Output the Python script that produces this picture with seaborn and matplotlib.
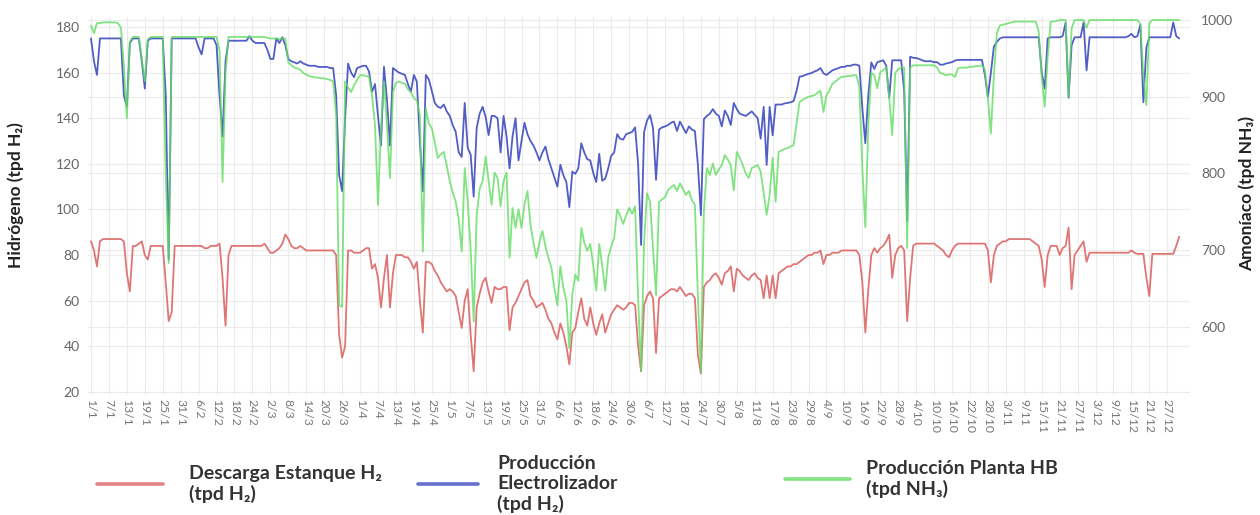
import pandas as pd
import matplotlib
matplotlib.use("Agg")
import matplotlib.pyplot as plt
from matplotlib.lines import Line2D
from matplotlib.transforms import blended_transform_factory
import seaborn as sns

# ---------------- data (daily, 1/1 .. 31/12) ----------------
descarga_h2 = [
    86, 82, 75, 86, 87, 87, 87, 87, 87, 87,
    87, 86, 72, 64, 84, 84, 85, 86, 80, 78,
    84, 84, 84, 84, 84, 68, 51, 55, 84, 84,
    84, 84, 84, 84, 84, 84, 84, 84, 83, 83,
    84, 84, 84, 85, 70, 49, 80, 84, 84, 84,
    84, 84, 84, 84, 84, 84, 84, 84, 85, 83,
    81, 81, 82, 83, 85, 89, 87, 84, 83, 83,
    84, 83, 82, 82, 82, 82, 82, 82, 82, 82,
    82, 82, 80, 45, 35, 40, 82, 82, 81, 81,
    81, 82, 83, 83, 74, 76, 70, 57, 70, 80,
    57, 72, 80, 80, 80, 79, 79, 77, 74, 77,
    60, 46, 77, 77, 76, 73, 71, 68, 66, 64,
    65, 64, 62, 55, 48, 60, 65, 45, 29, 57,
    63, 68, 70, 64, 59, 66, 65, 65, 66, 66,
    47, 57, 59, 62, 65, 68, 69, 62, 60, 57,
    58, 59, 56, 52, 50, 46, 43, 50, 46, 40,
    32, 46, 48, 55, 61, 52, 49, 57, 50, 45,
    50, 54, 46, 50, 54, 56, 58, 57, 56, 57,
    59, 59, 58, 40, 29, 58, 62, 64, 61, 37,
    61, 62, 63, 64, 65, 65, 64, 66, 64, 62,
    63, 63, 61, 36, 28, 66, 68, 69, 71, 72,
    70, 67, 72, 73, 75, 64, 74, 73, 71, 70,
    69, 71, 72, 70, 69, 61, 71, 61, 71, 61,
    72, 73, 74, 75, 75, 76, 76, 77, 78, 79,
    80, 80, 81, 81, 82, 76, 80, 80, 81, 81,
    81, 82, 82, 82, 82, 82, 82, 80, 68, 46,
    65, 80, 83, 81, 83, 84, 86, 89, 70, 80,
    83, 84, 82, 51, 70, 84, 85, 85, 85, 85,
    85, 85, 85, 84, 83, 82, 80, 79, 82, 84,
    85, 85, 85, 85, 85, 85, 85, 85, 85, 85,
    82, 68, 80, 84, 85, 86, 86, 87, 87, 87,
    87, 87, 87, 87, 87, 86, 85, 84, 78, 66,
    80, 84, 84, 84, 80, 83, 84, 92, 65, 80,
    82, 84, 86, 77, 81, 81, 81, 81, 81, 81,
    81, 81, 81, 81, 81, 81, 81, 81, 82, 81,
    80.5, 80.5, 80.5, 70, 62, 80.5, 80.5, 80.5, 80.5, 80.5,
    80.5, 80.5, 80.5, 84, 88,
]

produccion_electrolizador = [
    175, 165, 159, 175, 175, 175, 175, 175, 175, 175,
    175, 150, 145, 173, 175, 175, 175, 165, 153, 174,
    175, 175, 175, 175, 175, 150, 78, 175, 175, 175,
    175, 175, 175, 175, 175, 175, 171, 168, 175, 175,
    175, 175, 172, 150, 132, 165, 174, 174, 174, 174,
    174, 174, 174, 176, 174, 173, 173, 173, 173, 170,
    166, 166, 175, 173, 175.5, 172, 166, 165, 164.5, 164,
    165, 164, 163.5, 163, 163, 163, 162.5, 162.5, 162.5, 162.5,
    162, 162, 150, 115, 108, 140, 164, 160, 158, 162,
    162.5, 163, 163, 160.5, 151.6, 155, 141, 128, 162.6, 148,
    128, 162, 161, 160, 159.5, 159, 155, 151.6, 159, 156,
    130, 108, 159, 157, 152, 146.7, 145, 144.5, 146, 143,
    141, 137, 134, 125, 123, 146.7, 127, 124, 105.6, 135.7,
    142, 145, 140.6, 132.6, 141, 141, 140, 125, 141, 132,
    118, 132, 140, 121.5, 130, 138, 133, 130, 128, 125,
    121.5, 125, 127.6, 122, 118, 114, 110, 119.6, 115, 112,
    101, 116.6, 115.6, 118, 129, 125, 122, 121.5, 116, 112,
    124.4, 112.6, 113.5, 118, 123.5, 125, 133, 131, 130.6, 133,
    133.5, 134, 136, 120, 84.4, 134, 139, 141.4, 135.6, 113,
    135, 136, 136.4, 137, 138, 138.5, 134.4, 138.5, 136, 133.5,
    136.4, 135, 134.4, 119.6, 97.5, 139.6, 141, 142, 144, 142,
    141, 136.4, 143.4, 141, 137, 146.7, 144, 142, 141.5, 141,
    142, 143, 141.5, 140, 131, 145, 119.5, 145, 132.5, 146,
    146, 146, 146.5, 146.7, 147, 147.5, 152, 158.2, 158.5, 159,
    159.5, 159.8, 160.5, 161, 162, 159.7, 159, 160, 161, 161.5,
    162, 162.5, 162.5, 163, 163, 163.5, 163.5, 163, 144.5, 129,
    150, 164.5, 161.6, 164.6, 165, 165.4, 163, 149, 165.4, 165.4,
    165.4, 165.4, 152, 95, 167, 166.5, 166.4, 166, 165.4, 165,
    165, 165, 164.6, 164.6, 163.5, 163.5, 164, 164.3, 164.6, 165.3,
    165.6, 165.6, 165.6, 165.6, 165.6, 165.6, 165.6, 165.6, 165.6, 159,
    149.4, 160, 171.4, 173.5, 175, 175.5, 175.5, 175.5, 175.5, 175.5,
    175.5, 175.5, 175.5, 175.5, 175.5, 175.5, 175.5, 175.5, 160, 153,
    175, 175.5, 175.5, 175.5, 175.5, 176, 182, 149, 172, 175.5,
    175.5, 175.5, 182, 161, 175.5, 175.5, 175.5, 175.5, 175.5, 175.5,
    175.5, 175.5, 175.5, 175.5, 175.5, 175.5, 175.5, 176, 177, 175.5,
    176, 181, 147, 171, 175.5, 175.5, 175.5, 175.5, 175.5, 175.5,
    175.5, 175.5, 182, 176, 175,
]

produccion_planta_hb = [
    993, 983, 996, 996, 997, 997, 997, 997, 997, 996,
    990, 940, 872, 972, 978, 978, 978, 950, 920, 975,
    978, 978, 978, 978, 978, 800, 683, 978, 978, 978,
    978, 978, 978, 978, 978, 978, 978, 978, 978, 978,
    978, 978, 978, 960, 789, 930, 978, 978, 978, 978,
    978, 978, 978, 978, 978, 978, 978, 978, 978, 977,
    976, 976, 976, 975, 976, 976, 945, 941, 938, 937,
    935, 931, 929, 927, 926, 925, 925, 924, 924, 923,
    922, 920, 876, 628, 626, 920, 912, 906, 915, 922,
    928, 928, 927, 926, 902, 863, 759, 859, 920, 863,
    794, 906, 918, 920, 918, 917, 910, 906, 898, 895,
    876, 698, 885, 865, 859, 840, 820, 825, 828, 810,
    790, 775, 763, 740, 698, 807, 763, 700, 607, 745,
    780, 790, 822, 790, 759, 801, 794, 757, 790, 801,
    690, 755, 729, 753, 729, 760, 777, 733, 710, 690,
    710, 725, 705, 690, 677, 650, 628, 679, 651, 634,
    572, 642, 668, 660, 729, 710, 699, 708, 680, 647,
    708, 680, 647, 690, 705, 716, 753, 745, 734, 745,
    755, 747, 757, 638, 542, 711, 774, 763, 703, 641,
    763, 766, 769, 778, 782, 785, 777, 787, 780, 772,
    777, 765, 759, 638, 540, 750, 807, 798, 813, 798,
    805, 811, 824, 818, 811, 778, 828, 820, 811, 800,
    794, 807, 809, 811, 802, 775, 746, 772, 820, 763,
    828, 830, 832, 833, 835, 837, 865, 893, 896, 898,
    900, 901, 902, 905, 908, 880, 902, 908, 917, 920,
    923, 926, 926, 927, 927, 928, 928, 913, 807, 730,
    863, 931, 928, 911, 932, 935, 938, 898, 850, 931,
    936, 938, 938, 703, 938, 941, 941, 941, 941, 941,
    941, 941, 941, 938, 931, 930, 928, 929, 929, 926,
    937, 938, 938, 938, 939, 939, 940, 940, 941, 935,
    898, 852, 928, 983, 993, 994, 995, 996, 997, 998,
    998, 998, 998, 998, 998, 998, 998, 985, 927, 887,
    952, 998, 998, 999, 1000, 1000, 1000, 900, 989, 1000,
    1000, 1000, 1000, 990, 1000, 1000, 1000, 1000, 1000, 1000,
    1000, 1000, 1000, 1000, 1000, 1000, 1000, 1000, 1000, 1000,
    1000, 995, 927, 889, 996, 1000, 1000, 1000, 1000, 1000,
    1000, 1000, 1000, 1000, 1000,
]

left_ticks = [20, 40, 60, 80, 100, 120, 140, 160, 180]
right_ticks = [600, 700, 800, 900, 1000]

legend_labels = [
    "Descarga Estanque H\u2082\n(tpd H\u2082)",
    "Producci\u00f3n\nElectrolizador\n(tpd H\u2082)",
    "Producci\u00f3n Planta HB\n(tpd NH\u2083)",
]
ylabel_left = "Hidr\u00f3geno (tpd H\u2082)"
ylabel_right = "Amon\u00edaco (tpd NH\u2083)"

# ---------------- frame ----------------
fechas = pd.date_range("2023-01-01", periods=len(descarga_h2), freq="D")
tick_fechas = fechas[::6]
tick_labels = [f"{d.day}/{d.month}" for d in tick_fechas]

df = pd.DataFrame({
    "fecha": fechas,
    "descarga": descarga_h2,
    "electrolizador": produccion_electrolizador,
    "planta": produccion_planta_hb,
})

RED = "#dd6666"
BLUE = "#3e4cc0"
GREEN = "#62dc62"
GRID = "#ebebeb"

sns.set_theme(style="white")
plt.rcParams["font.family"] = ["Lato", "DejaVu Sans"]

W, H = 1260, 515
fig = plt.figure(figsize=(W / 100, H / 100), dpi=100)
ax = fig.add_axes([88 / W, 1 - 395 / H, 1102 / W, 378 / H])
ax2 = ax.twinx()

sns.lineplot(data=df, x="fecha", y="descarga", ax=ax, color=RED,
             linewidth=1.3, alpha=0.9, errorbar=None, zorder=3)
sns.lineplot(data=df, x="fecha", y="electrolizador", ax=ax, color=BLUE,
             linewidth=1.3, alpha=0.9, errorbar=None, zorder=3)
sns.lineplot(data=df, x="fecha", y="planta", ax=ax2, color=GREEN,
             linewidth=1.3, alpha=0.8, errorbar=None, zorder=3)

ax.set_xlim(fechas[0] - pd.Timedelta(days=1.0), fechas[0] + pd.Timedelta(days=367.6))
ax.set_ylim(18.6, 184.4)
ax2.set_ylim(511, 1004)

ax.set_xticks(tick_fechas)
ax.set_xticklabels(tick_labels, rotation=-90, fontsize=8.8, color="#777777")
ax.set_yticks(left_ticks)
ax.set_yticklabels([str(t) for t in left_ticks], fontsize=10, color="#666666")
ax2.set_yticks(right_ticks)
ax2.set_yticklabels([str(t) for t in right_ticks], fontsize=10, color="#666666")
ax.tick_params(axis="x", length=0, pad=3)
ax.tick_params(axis="y", length=0, pad=6)
ax2.tick_params(axis="y", length=0, pad=8)

ax.set_xlabel("")
ax.set_ylabel(ylabel_left, fontsize=12.5, fontweight="bold", color="#222222")
ax2.set_ylabel(ylabel_right, fontsize=12.5, fontweight="bold", color="#222222",
               rotation=90)
ax.yaxis.set_label_coords(-0.058, 0.53)
ax2.yaxis.set_label_coords(1.044, 0.534)

ax.grid(True, axis="both", color=GRID, linewidth=0.8, zorder=0)
ax2.grid(False)
# right-axis grid drawn inside the left axes (so it stays behind every line)
tr = blended_transform_factory(ax.transAxes, ax2.transData)
for t in right_ticks:
    ax.plot([0, 1], [t, t], transform=tr, color=GRID, linewidth=0.8, zorder=0.5)

for a in (ax, ax2):
    for s in a.spines.values():
        s.set_visible(False)

# ---------------- legend (three entries below the plot) ----------------
prop = {"family": ["Lato", "DejaVu Sans"], "weight": "bold", "size": 14}
entries = [
    (RED, legend_labels[0], 97, 484, 3.4, 1.35),
    (BLUE, legend_labels[1], 418, 484, 3.1, 0.98),
    (GREEN, legend_labels[2], 785, 479, 3.35, 0.82),
]
for col, lab, x0, yc, hl, htp in entries:
    h = Line2D([], [], color=col, linewidth=2.6, alpha=0.8)
    fig.legend([h], [lab], loc="center left",
               bbox_to_anchor=(x0 / W, 1 - yc / H),
               frameon=False, borderpad=0, borderaxespad=0,
               handlelength=hl, handletextpad=htp,
               prop=prop, labelcolor="#333333")

fig.savefig("out.png", dpi=100)
